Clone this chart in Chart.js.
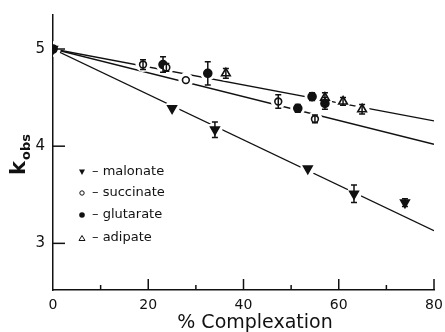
<!DOCTYPE html>
<html><head><meta charset="utf-8">
<script src="https://cdn.jsdelivr.net/npm/chart.js@4"></script>
<style>html,body{margin:0;padding:0;background:#fff}canvas{display:block}</style>
</head><body>
<canvas id="c" width="445" height="332"></canvas>
<script>
// ---- data ----
const xTicks = [0, 20, 40, 60, 80];
const yTicks = [3, 4, 5];

const malonateX = [0, 25.0, 34.0, 53.5, 63.2, 73.9];
const malonateY = [5.0, 4.39, 4.17, 3.77, 3.51, 3.42];
const malonateErr = [0.03, 0.03, 0.08, 0.03, 0.09, 0.04];

const succinateX = [0, 18.9, 23.8, 27.9, 47.3, 55.0];
const succinateY = [5.0, 4.84, 4.81, 4.68, 4.46, 4.28];
const succinateErr = [0.02, 0.05, 0.04, 0.03, 0.07, 0.04];

const glutarateX = [0, 23.1, 32.5, 51.4, 54.4, 57.1];
const glutarateY = [5.0, 4.84, 4.75, 4.39, 4.51, 4.44];
const glutarateErr = [0.02, 0.08, 0.12, 0.04, 0.04, 0.06];

const adipateX = [36.3, 57.1, 60.9, 64.9];
const adipateY = [4.75, 4.50, 4.46, 4.38];
const adipateErr = [0.05, 0.05, 0.04, 0.05];

// fitted lines (x from 0 to 80)
const lineX = [0, 80];
const malonateFit = [5.0, 3.13];
const succinateFit = [5.0, 4.02];
const upperFit = [5.0, 4.26];

const legendLabels = ['– malonate', '– succinate', '– glutarate', '– adipate'];

const INK = '#111';
const pts = (xs, ys) => xs.map((x, i) => ({x: x, y: ys[i]}));

const series = [
  {x: malonateX, y: malonateY, e: malonateErr, style: 'triangle', rot: 180, r: 5, fill: true},
  {x: succinateX, y: succinateY, e: succinateErr, style: 'circle', rot: 0, r: 3.4, fill: false},
  {x: glutarateX, y: glutarateY, e: glutarateErr, style: 'circle', rot: 0, r: 4, fill: true},
  {x: adipateX, y: adipateY, e: adipateErr, style: 'triangle', rot: 0, r: 5, fill: false}
];

const datasets = [];
[malonateFit, succinateFit, upperFit].forEach(f => {
  datasets.push({type: 'scatter', data: pts(lineX, f), showLine: true, borderColor: INK,
    borderWidth: 1.4, pointRadius: 0, order: 3});
});
series.forEach(s => {
  datasets.push({type: 'scatter', data: pts(s.x, s.y), pointStyle: 'circle', pointRadius: 7.5,
    backgroundColor: '#fff', borderWidth: 0, order: 2});
});
series.forEach(s => {
  datasets.push({type: 'scatter', data: pts(s.x, s.y), pointStyle: s.style, rotation: s.rot,
    pointRadius: s.r, backgroundColor: s.fill ? INK : '#fff', borderColor: INK,
    borderWidth: 1.6, order: 1});
});

const deco = {
  id: 'deco',
  afterDatasetsDraw(chart) {
    const ctx = chart.ctx, xs = chart.scales.x, ys = chart.scales.y;
    ctx.save();
    ctx.strokeStyle = INK; ctx.lineWidth = 1.5;
    // error bars
    series.forEach(s => {
      s.x.forEach((xv, i) => {
        const e = s.e[i];
        if (e < 0.035) return;
        const px = xs.getPixelForValue(xv);
        const y1 = ys.getPixelForValue(s.y[i] + e), y2 = ys.getPixelForValue(s.y[i] - e);
        ctx.beginPath();
        ctx.moveTo(px, y1); ctx.lineTo(px, y2);
        ctx.moveTo(px - 3, y1); ctx.lineTo(px + 3, y1);
        ctx.moveTo(px - 3, y2); ctx.lineTo(px + 3, y2);
        ctx.stroke();
      });
    });
    // inward tick marks
    const ca = chart.chartArea;
    yTicks.forEach(v => {
      const py = ys.getPixelForValue(v);
      ctx.beginPath(); ctx.moveTo(ca.left, py); ctx.lineTo(ca.left + 12, py); ctx.stroke();
    });
    for (let v = 10; v <= 80; v += 10) {
      const px = xs.getPixelForValue(v);
      const len = (v % 20 === 0) ? 11 : 5;
      ctx.beginPath(); ctx.moveTo(px, ca.bottom); ctx.lineTo(px, ca.bottom - len); ctx.stroke();
    }
    // legend
    const lx = 82, rows = [172, 193, 215, 238];
    ctx.fillStyle = INK;
    rows.forEach((ry, i) => {
      ctx.beginPath();
      if (i === 0) { ctx.moveTo(lx - 3, ry - 2.5); ctx.lineTo(lx + 3, ry - 2.5); ctx.lineTo(lx, ry + 3); ctx.closePath(); ctx.fill(); }
      if (i === 1) { ctx.arc(lx, ry, 2.2, 0, Math.PI * 2); ctx.lineWidth = 1; ctx.stroke(); }
      if (i === 2) { ctx.arc(lx, ry, 2.8, 0, Math.PI * 2); ctx.fill(); }
      if (i === 3) { ctx.moveTo(lx - 3, ry + 2.5); ctx.lineTo(lx + 3, ry + 2.5); ctx.lineTo(lx, ry - 2.5); ctx.closePath(); ctx.lineWidth = 1; ctx.stroke(); }
      ctx.font = '13px "DejaVu Sans"';
      ctx.textBaseline = 'middle'; ctx.textAlign = 'left';
      ctx.fillText(legendLabels[i], lx + 10, ry);
    });
    // axis titles
    ctx.font = '500 19px "DejaVu Sans"';
    ctx.textAlign = 'center'; ctx.textBaseline = 'alphabetic';
    ctx.fillText('% Complexation', 255, 328);
    ctx.translate(25, 175);
    ctx.rotate(-Math.PI / 2);
    ctx.textAlign = 'left';
    ctx.font = 'bold 21px "DejaVu Sans"';
    const kw = ctx.measureText('k').width;
    ctx.fillText('k', 0, 0);
    ctx.font = 'bold 13px "DejaVu Sans"';
    ctx.fillText('obs', kw + 1, 5);
    ctx.restore();
  }
};

new Chart(document.getElementById('c'), {
  type: 'scatter',
  data: {datasets: datasets},
  options: {
    responsive: false, animation: false, devicePixelRatio: 1,
    layout: {padding: {top: 15, right: 11, left: 0, bottom: 0}},
    plugins: {legend: {display: false}, tooltip: {enabled: false}},
    scales: {
      x: {type: 'linear', min: 0, max: 80,
        afterBuildTicks: s => { s.ticks = xTicks.map(v => ({value: v})); },
        afterFit: s => { s.height = 42; s.paddingLeft = 0; s.paddingRight = 0; },
        grid: {display: false, drawTicks: false}, border: {display: true, color: INK, width: 1.5},
        ticks: {color: INK, font: {family: 'DejaVu Sans', size: 14}, padding: 7, maxRotation: 0}},
      y: {type: 'linear', min: 2.52, max: 5.35,
        afterBuildTicks: s => { s.ticks = yTicks.map(v => ({value: v})); },
        afterFit: s => { s.width = 53; s.paddingTop = 0; s.paddingBottom = 0; },
        grid: {display: false, drawTicks: false}, border: {display: true, color: INK, width: 1.5},
        ticks: {color: INK, font: {family: 'DejaVu Sans', size: 15}, padding: 8}}
    }
  },
  plugins: [deco]
});
</script>
</body></html>
